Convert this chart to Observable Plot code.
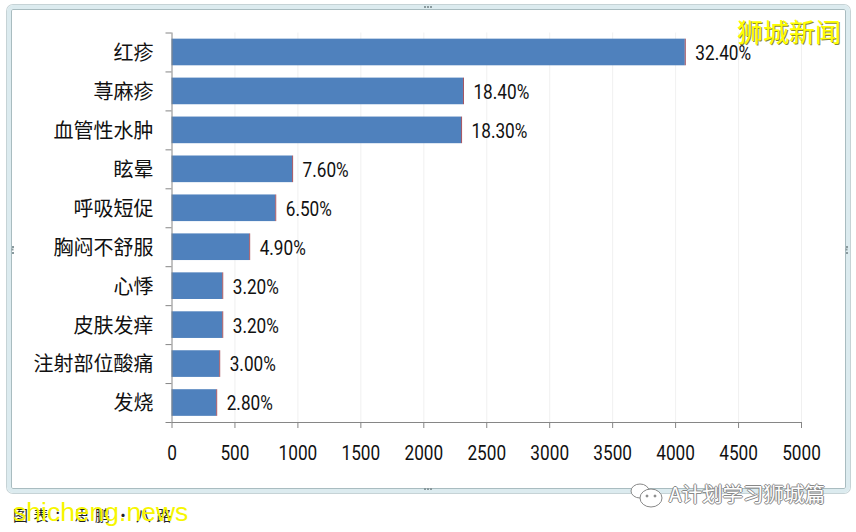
<!DOCTYPE html>
<html><head><meta charset="utf-8">
<script src="https://cdn.jsdelivr.net/npm/d3@7"></script>
<script src="https://cdn.jsdelivr.net/npm/@observablehq/plot@0.6"></script>
<style>
html,body{margin:0;padding:0;background:#fff;width:856px;height:532px;overflow:hidden}
#wrap{position:relative;width:856px;height:532px;font-family:"Noto Sans CJK SC",sans-serif}
#wrap svg.plot-root{position:absolute;left:0;top:0;background:transparent}
#frame{position:absolute;left:7px;top:5px;width:835px;height:480px;border:4px solid #dcebef;border-radius:6px;box-shadow:inset 0 0 0 1px #a9bcc0,0 0 0 1px #c6d3d6}
.wm{position:absolute;white-space:nowrap}
#cn{left:737px;top:13px;font-size:26px;line-height:36px;color:#ffff00;text-shadow:1px 1px 0 #8a8a30}
#en{left:13px;top:495px;font-family:"Liberation Sans",sans-serif;font-size:26.5px;line-height:34px;color:#f6f600}
#cap{left:13px;top:505px;font-size:15px;line-height:20px;color:#222;letter-spacing:5.5px}
#wx{left:669px;top:479px;font-size:20.5px;line-height:28px;color:#fff;text-shadow:-1px 0 0 #888,1px 0 0 #888,0 -1px 0 #888,0 1px 0 #888}
#ic{position:absolute;left:628px;top:481px;width:36px;height:30px}
.h{position:absolute;width:8px;height:3px;border-top:2px dotted #8a9a9e}
</style></head>
<body><div id="wrap">
<div id="frame"></div>
<div class="h" style="left:424px;top:6px"></div>
<div class="h" style="left:424px;top:488px"></div>
<div class="h" style="left:7px;top:247px;transform:rotate(90deg)"></div>
<div class="h" style="left:841px;top:247px;transform:rotate(90deg)"></div>
<div id="chart"></div>
<div class="wm" id="cap">图表：思鹏•八路</div>
<div class="wm" id="en">shicheng.news</div>
<div class="wm" id="cn">狮城新闻</div>
<svg id="ic" viewBox="0 0 36 30" fill="#fff" stroke="#888" stroke-width="1"><ellipse cx="12" cy="10" rx="9" ry="7"/><ellipse cx="23" cy="17" rx="11" ry="9"/><circle cx="19" cy="15" r="1" fill="#888"/><circle cx="27" cy="15" r="1" fill="#888"/></svg>
<div class="wm" id="wx">A计划学习狮城篇</div>
</div>
<script>
const categories = ["红疹","荨麻疹","血管性水肿","眩晕","呼吸短促","胸闷不舒服","心悸","皮肤发痒","注射部位酸痛","发烧"];
const counts = [4077,2315,2300,958,824,617,403,403,379,355];
const labels = ["32.40%","18.40%","18.30%","7.60%","6.50%","4.90%","3.20%","3.20%","3.00%","2.80%"];
const xTicks = [0,500,1000,1500,2000,2500,3000,3500,4000,4500,5000];

const rows = categories.map((c,i)=>({c,i,v:counts[i],l:labels[i]}));
const boundaries = d3.range(categories.length+1);
const numFont = 'Roboto,sans-serif';
const gap = 0.158;

const plot = Plot.plot({
  width:856, height:532,
  marginLeft:171.5, marginRight:55, marginTop:32.5, marginBottom:110,
  x:{domain:[0,5000]},
  y:{domain:[categories.length,0], type:"linear"},
  style:{background:"transparent",color:"#111"},
  marks:[
    Plot.gridX(xTicks.slice(1),{stroke:"#ececec",strokeOpacity:1,strokeWidth:0.8}),
    Plot.rect(rows,{x1:0,x2:"v",y1:d=>d.i+gap,y2:d=>d.i+1-gap,fill:"#4f81bd"}),
    Plot.ruleX(rows,{x:"v",y1:d=>d.i+gap,y2:d=>d.i+1-gap,stroke:"#a0505e",strokeWidth:1}),
    Plot.ruleX([0],{stroke:"#868686"}),
    Plot.ruleY([categories.length],{stroke:"#868686"}),
    Plot.axisX({ticks:xTicks,tickSize:6,tickPadding:17,tickFormat:d=>String(d),stroke:"#868686",
      fontFamily:numFont,fontSize:20,fill:"#111",label:null}),
    Plot.axisY({ticks:boundaries,tickSize:6,tickFormat:()=>"",stroke:"#868686",label:null}),
    Plot.axisY({ticks:rows.map(d=>d.i+0.5),tickSize:0,tickPadding:18.5,tickFormat:d=>categories[Math.floor(d)],
      fontFamily:'"Noto Sans CJK SC",sans-serif',fontSize:20,fill:"#111",label:null,dy:1}),
    Plot.text(rows,{x:"v",y:d=>d.i+0.5,text:"l",dx:10,dy:1,textAnchor:"start",
      fontFamily:numFont,fontSize:20,fill:"#111"})
  ]
});
document.getElementById("chart").appendChild(plot);
// The reference's digits are condensed: narrow the numeric labels horizontally
plot.querySelectorAll("text").forEach(t=>{
  if(/^[0-9.%]+$/.test(t.textContent)){
    t.setAttribute("textLength",(t.getComputedTextLength()*0.86).toFixed(1));
    t.setAttribute("lengthAdjust","spacingAndGlyphs");
  }
});
</script>
</body></html>
